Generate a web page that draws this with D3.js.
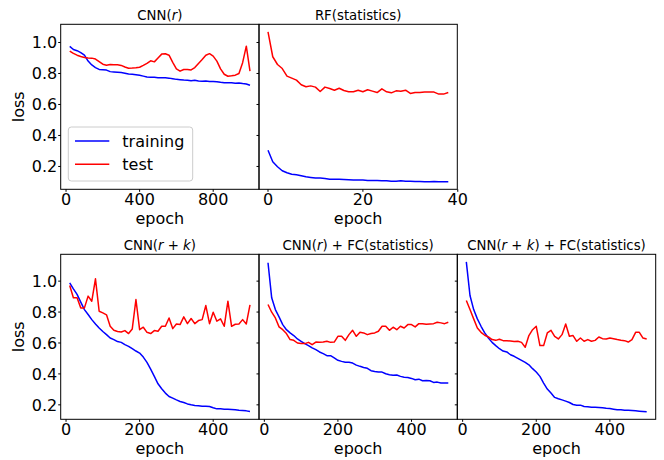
<!DOCTYPE html>
<html>
<head>
<meta charset="utf-8">
<script src="https://cdn.jsdelivr.net/npm/d3@7/dist/d3.min.js"></script>
<style>
  html, body { margin: 0; padding: 0; background: #fff; }
  svg { display: block; }
  text { font-family: "DejaVu Sans", sans-serif; fill: #000; }
</style>
</head>
<body>
<svg id="chart" width="664" height="460"></svg>
<script>
// ---------------- DATA ----------------
const epochsCNNr = [20,40,60,80,100,120,140,160,180,200,220,240,260,280,300,320,340,360,380,400,
  420,440,460,480,500,520,540,560,580,600,620,640,660,680,700,720,740,760,780,800,
  820,840,860,880,900,920,940,960,980,1000];
const cnnRTrain = [0.975,0.955,0.947,0.935,0.918,0.880,0.855,0.838,0.826,0.824,0.822,0.812,0.810,0.808,0.806,0.802,0.797,0.795,0.792,0.788,
  0.783,0.778,0.776,0.775,0.773,0.772,0.772,0.770,0.766,0.762,0.760,0.758,0.757,0.753,0.756,0.752,0.750,0.751,0.749,0.748,
  0.747,0.743,0.740,0.741,0.740,0.737,0.739,0.735,0.732,0.724];
const cnnRTest = [0.945,0.930,0.918,0.910,0.903,0.900,0.899,0.893,0.877,0.860,0.853,0.858,0.857,0.856,0.852,0.842,0.834,0.835,0.837,0.840,
  0.852,0.865,0.882,0.875,0.900,0.925,0.927,0.918,0.872,0.830,0.815,0.826,0.826,0.823,0.838,0.865,0.890,0.918,0.928,0.912,
  0.880,0.830,0.795,0.782,0.785,0.789,0.800,0.870,0.976,0.815];

const epochsRF = [0,1,2,3,4,5,6,7,8,9,10,11,12,13,14,15,16,17,18,19,20,21,22,23,24,25,26,27,28,29,30,31,32,33,34,35,36,37,38];
const rfTrain = [0.305,0.230,0.198,0.172,0.159,0.150,0.146,0.140,0.133,0.129,0.125,0.125,0.123,0.118,0.118,0.118,0.116,0.114,0.112,0.112,
  0.112,0.110,0.110,0.110,0.108,0.108,0.105,0.105,0.108,0.105,0.105,0.103,0.103,0.101,0.101,0.103,0.101,0.101,0.101];
const rfTest = [1.069,0.908,0.858,0.832,0.783,0.770,0.757,0.727,0.714,0.720,0.712,0.684,0.712,0.703,0.692,0.705,0.690,0.682,0.682,0.692,
  0.682,0.695,0.686,0.677,0.701,0.682,0.675,0.688,0.686,0.692,0.671,0.677,0.677,0.680,0.680,0.680,0.667,0.667,0.677];

const epochs500 = [10,20,30,40,50,60,70,80,90,100,110,120,130,140,150,160,170,180,190,200,
  210,220,230,240,250,260,270,280,290,300,310,320,330,340,350,360,370,380,390,400,
  410,420,430,440,450,460,470,480,490,500];
const cnnRKTrain = [0.989,0.950,0.914,0.864,0.816,0.784,0.751,0.723,0.697,0.674,0.654,0.632,0.622,0.609,0.604,0.589,0.578,0.563,0.548,0.535,
  0.509,0.475,0.431,0.384,0.336,0.304,0.276,0.254,0.243,0.232,0.222,0.215,0.206,0.200,0.196,0.194,0.191,0.191,0.189,0.181,
  0.174,0.174,0.172,0.172,0.170,0.168,0.165,0.163,0.161,0.157];
const cnnRKTest = [0.972,0.892,0.892,0.827,0.827,0.903,0.870,1.015,0.805,0.795,0.782,0.708,0.682,0.674,0.671,0.680,0.661,0.691,0.881,0.686,
  0.702,0.669,0.661,0.680,0.676,0.708,0.708,0.762,0.693,0.723,0.719,0.769,0.725,0.758,0.725,0.745,0.751,0.842,0.725,0.799,
  0.741,0.756,0.708,0.870,0.708,0.721,0.723,0.751,0.723,0.846];
const cnnRFCTrain = [1.119,0.892,0.816,0.769,0.719,0.686,0.665,0.648,0.626,0.611,0.596,0.583,0.568,0.557,0.542,0.531,0.518,0.518,0.503,0.488,
  0.481,0.475,0.475,0.470,0.457,0.449,0.442,0.436,0.421,0.416,0.412,0.412,0.401,0.395,0.391,0.393,0.384,0.379,0.377,0.371,
  0.362,0.366,0.356,0.358,0.356,0.345,0.347,0.341,0.341,0.341];
const cnnRFCTest = [0.849,0.799,0.762,0.704,0.686,0.661,0.622,0.617,0.600,0.596,0.596,0.604,0.589,0.606,0.604,0.606,0.611,0.604,0.606,0.643,
  0.643,0.617,0.654,0.682,0.643,0.669,0.665,0.654,0.661,0.665,0.676,0.708,0.708,0.682,0.702,0.686,0.708,0.697,0.719,0.719,
  0.704,0.725,0.725,0.721,0.723,0.725,0.734,0.730,0.725,0.734];
const cnnRKFCTrain = [1.125,0.907,0.816,0.756,0.708,0.665,0.632,0.604,0.583,0.563,0.548,0.542,0.524,0.514,0.501,0.488,0.475,0.459,0.434,0.412,
  0.384,0.341,0.302,0.276,0.248,0.239,0.232,0.224,0.215,0.202,0.198,0.198,0.189,0.187,0.185,0.185,0.183,0.181,0.178,0.176,
  0.172,0.168,0.168,0.165,0.165,0.163,0.161,0.159,0.157,0.155];
const cnnRKFCTest = [0.875,0.816,0.756,0.697,0.669,0.650,0.639,0.622,0.617,0.624,0.615,0.615,0.613,0.609,0.611,0.604,0.572,0.648,0.686,0.708,
  0.583,0.583,0.665,0.682,0.643,0.626,0.654,0.723,0.643,0.648,0.611,0.632,0.611,0.622,0.611,0.617,0.639,0.628,0.626,0.632,
  0.628,0.622,0.617,0.615,0.606,0.622,0.669,0.669,0.632,0.626];

const yTicks = [0.2, 0.4, 0.6, 0.8, 1.0];
const xTicksCNNr = [0, 400, 800];
const xTicksRF = [0, 20, 40];
const xTicks500 = [0, 200, 400];
const seriesNames = ["training", "test"];
const seriesColors = ["#0000ff", "#ff0000"];

// ---------------- LAYOUT ----------------
const svg = d3.select("#chart");
const colX = [60.7, 259, 457.3, 655.7];
const rowY = [[24.3, 189.3], [254.3, 419.3]];

const panels = [
  {row: 0, col: 0, title: [["CNN(", false], ["r", true], [")", false]], x: epochsCNNr, train: cnnRTrain, test: cnnRTest, ticks: xTicksCNNr, yLab: true, legend: true},
  {row: 0, col: 1, title: [["RF(statistics)", false]], x: epochsRF, train: rfTrain, test: rfTest, ticks: xTicksRF, yLab: false},
  {row: 1, col: 0, title: [["CNN(", false], ["r", true], [" + ", false], ["k", true], [")", false]], x: epochs500, train: cnnRKTrain, test: cnnRKTest, ticks: xTicks500, yLab: true},
  {row: 1, col: 1, title: [["CNN(", false], ["r", true], [") + FC(statistics)", false]], x: epochs500, train: cnnRFCTrain, test: cnnRFCTest, ticks: xTicks500, yLab: false},
  {row: 1, col: 2, title: [["CNN(", false], ["r", true], [" + ", false], ["k", true], [") + FC(statistics)", false]], x: epochs500, train: cnnRKFCTrain, test: cnnRKFCTest, ticks: xTicks500, yLab: false}
];

function padDomain(vals) {
  const [lo, hi] = d3.extent(vals);
  const m = (hi - lo) * 0.05;
  return [lo - m, hi + m];
}

// shared y domain per row
const rowDomains = [0, 1].map(r => padDomain(panels.filter(p => p.row === r).flatMap(p => p.train.concat(p.test))));

const tickLen = 2.5;

panels.forEach(p => {
  const x0 = colX[p.col], x1 = colX[p.col + 1];
  const [y0, y1] = rowY[p.row];
  const xs = d3.scaleLinear().domain(padDomain(p.x)).range([x0, x1]);
  const ys = d3.scaleLinear().domain(rowDomains[p.row]).range([y1, y0]);
  const g = svg.append("g");

  // lines
  const clipId = "clip" + p.row + p.col;
  g.append("clipPath").attr("id", clipId).append("rect")
    .attr("x", x0).attr("y", y0).attr("width", x1 - x0).attr("height", y1 - y0);
  [p.train, p.test].forEach((vals, i) => {
    const line = d3.line().x((d, j) => xs(p.x[j])).y(d => ys(d));
    g.append("path").datum(vals)
      .attr("d", line)
      .attr("fill", "none")
      .attr("stroke", seriesColors[i])
      .attr("stroke-width", 1.5)
      .attr("stroke-linejoin", "round")
      .attr("clip-path", "url(#" + clipId + ")");
  });

  // frame
  g.append("rect").attr("x", x0).attr("y", y0).attr("width", x1 - x0).attr("height", y1 - y0)
    .attr("fill", "none").attr("stroke", "#000").attr("stroke-width", 1);

  // y ticks
  yTicks.forEach(t => {
    g.append("line").attr("x1", x0 - tickLen).attr("x2", x0).attr("y1", ys(t)).attr("y2", ys(t))
      .attr("stroke", "#000").attr("stroke-width", 1);
    if (p.yLab) {
      g.append("text").attr("x", x0 - 3.5).attr("y", ys(t) + 5.8)
        .attr("text-anchor", "end").attr("font-size", 16).text(d3.format(".1f")(t));
    }
  });
  // x ticks
  p.ticks.forEach(t => {
    g.append("line").attr("x1", xs(t)).attr("x2", xs(t)).attr("y1", y1).attr("y2", y1 + tickLen)
      .attr("stroke", "#000").attr("stroke-width", 1);
    g.append("text").attr("x", xs(t)).attr("y", y1 + 16)
      .attr("text-anchor", "middle").attr("font-size", 16).text(t);
  });

  // x label
  g.append("text").attr("x", (x0 + x1) / 2).attr("y", y1 + 34.2)
    .attr("text-anchor", "middle").attr("font-size", 16).text("epoch");
  // y label
  if (p.yLab) {
    g.append("text").attr("transform", `translate(24,${(y0 + y1) / 2}) rotate(-90)`)
      .attr("text-anchor", "middle").attr("font-size", 16).text("loss");
  }
  // title
  const tt = g.append("text").attr("x", (x0 + x1) / 2).attr("y", y0 - 4.3)
    .attr("text-anchor", "middle").attr("font-size", 13.3);
  p.title.forEach(([s, it]) => {
    tt.append("tspan").attr("font-style", it ? "italic" : "normal").text(s);
  });

  // legend
  if (p.legend) {
    const lg = g.append("g");
    lg.append("rect").attr("x", 68.3).attr("y", 127).attr("width", 124.4).attr("height", 54)
      .attr("rx", 3).attr("fill", "#fff").attr("fill-opacity", 0.8)
      .attr("stroke", "#cccccc").attr("stroke-width", 1);
    seriesNames.forEach((n, i) => {
      const yy = 141 + i * 23.3;
      lg.append("line").attr("x1", 75).attr("x2", 109.3).attr("y1", yy).attr("y2", yy)
        .attr("stroke", seriesColors[i]).attr("stroke-width", 1.5);
      lg.append("text").attr("x", 122.3).attr("y", yy + 6).attr("font-size", 16).text(n);
    });
  }
});
</script>
</body>
</html>
